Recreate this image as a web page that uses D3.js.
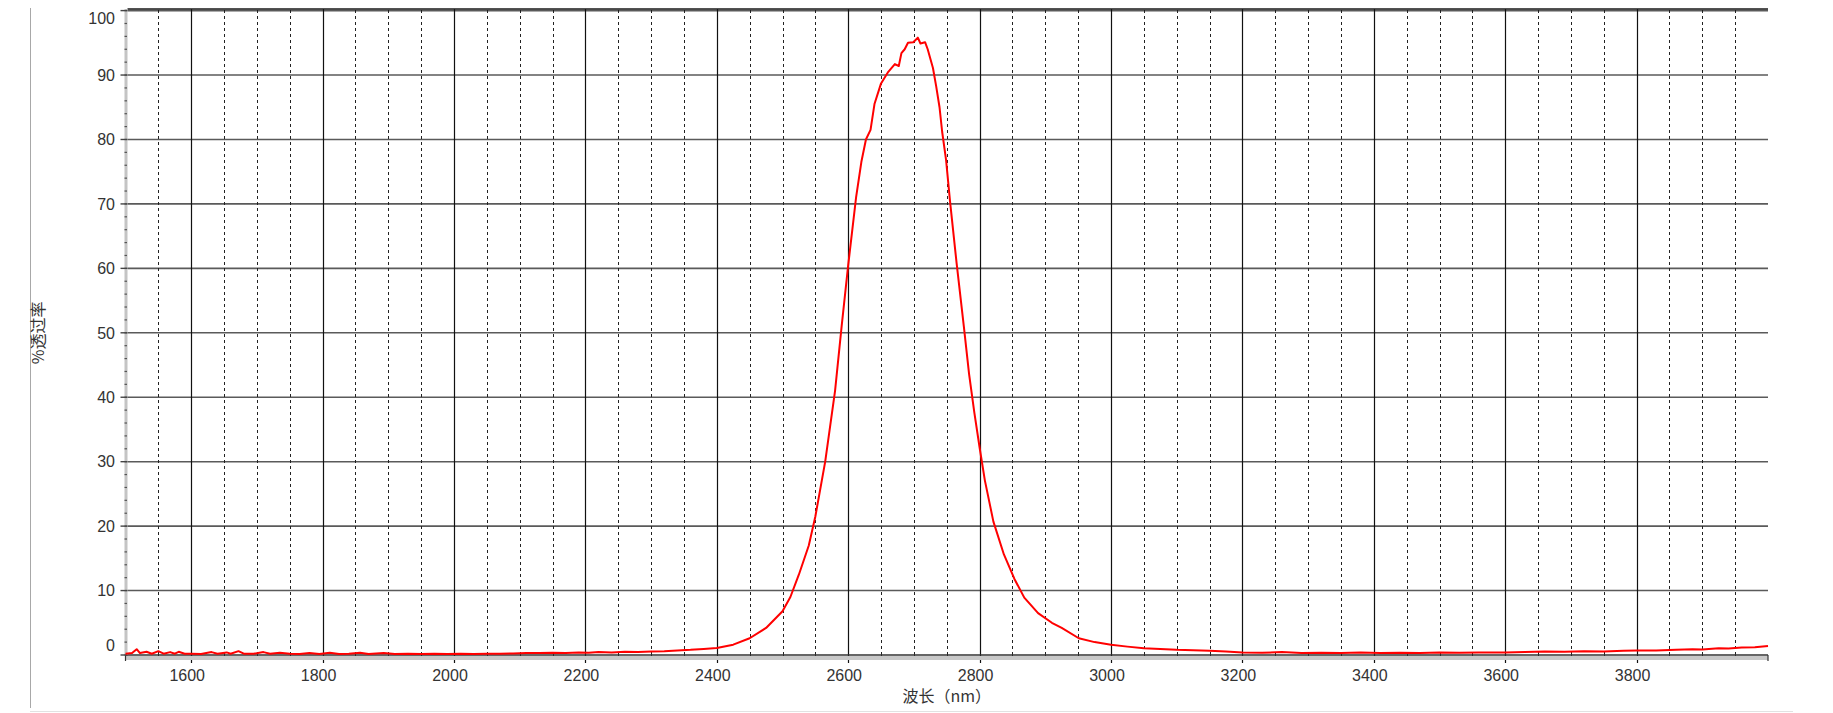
<!DOCTYPE html>
<html>
<head>
<meta charset="utf-8">
<script src="https://cdn.jsdelivr.net/npm/d3@7"></script>
<style>
  html, body { margin: 0; padding: 0; background: #fff; }
  svg { display: block; }
  .tick-label { font-family: "Liberation Sans", Arial, sans-serif; font-size: 16px; fill: #333; }
  .title { font-family: "Noto Sans CJK SC", sans-serif; font-size: 16px; fill: #333; }
</style>
</head>
<body>
<svg id="chart" width="1833" height="713"></svg>
<script>
// ---- data ----
const wavelength = [
  1500,1510,1517,1522,1532,1540,1550,1558,1568,1575,1581,1590,1600,1615,1631,1640,1654,1660,1672,1680,
  1695,1710,1720,1735,1750,1765,1780,1795,1811,1825,1840,1857,1870,1893,1910,1930,1950,1970,1990,2010,
  2030,2050,2070,2090,2110,2130,2150,2170,2190,2205,2220,2240,2260,2280,2300,2320,2340,2360,2380,2400,
  2425,2450,2475,2500,2512,2525,2540,2550,2565,2580,2590,2600,2612,2620,2627,2634,2640,2650,2661,2671,
  2677,2681,2686,2691,2699,2706,2710,2717,2721,2729,2734,2739,2743,2749,2755,2765,2776,2784,2792,2800,
  2808,2821,2837,2853,2868,2889,2910,2925,2951,2975,3000,3025,3050,3075,3100,3125,3150,3175,3200,3230,
  3260,3290,3320,3350,3380,3410,3440,3470,3500,3530,3560,3600,3630,3660,3690,3720,3750,3780,3800,3830,
  3860,3885,3900,3925,3940,3960,3980,4000
];
const transmittance = [
  0.2,0.3,0.9,0.3,0.5,0.2,0.6,0.2,0.45,0.2,0.5,0.2,0.2,0.15,0.45,0.2,0.4,0.2,0.6,0.2,
  0.2,0.45,0.2,0.35,0.2,0.15,0.3,0.15,0.35,0.15,0.2,0.35,0.15,0.3,0.15,0.2,0.15,0.2,0.15,0.2,
  0.15,0.2,0.2,0.25,0.3,0.3,0.35,0.3,0.4,0.35,0.45,0.4,0.5,0.45,0.55,0.6,0.7,0.8,0.95,1.1,
  1.6,2.6,4.2,6.8,9.0,12.5,17,21.5,30,41,51,60.5,71,76.5,80,81.5,85.5,88.7,90.5,91.7,
  91.4,93.4,94,95.0,95.1,95.8,94.9,95.1,94,91.1,88.2,85,81.2,76.8,70.4,60.8,51,43.6,37.6,32.2,
  27.1,20.7,15.6,11.8,8.9,6.5,5.0,4.2,2.6,2.0,1.6,1.3,1.05,0.95,0.8,0.75,0.65,0.55,0.4,0.35,
  0.45,0.3,0.35,0.3,0.4,0.3,0.35,0.3,0.4,0.35,0.4,0.4,0.45,0.55,0.5,0.6,0.55,0.65,0.7,0.7,
  0.8,0.9,0.85,1.05,1.0,1.15,1.2,1.4
];
const xTickValues = [1600,1800,2000,2200,2400,2600,2800,3000,3200,3400,3600,3800];
const xMinorValues = d3.range(1550, 4000, 50).filter(v => v % 200 !== 0);
const yTickValues = [0,10,20,30,40,50,60,70,80,90,100];
const yMinorValues = d3.range(0, 101, 2);
const xTitle = "波长（nm）";
const yTitle = "%透过率";

// ---- layout ----
const mLeft = 125.5, mRight = 1768, mTop = 10.6, mBottom = 655;
const x = d3.scaleLinear().domain([1500, 4000]).range([mLeft, mRight]);
const y = d3.scaleLinear().domain([0, 100]).range([mBottom, mTop]);

const svg = d3.select("#chart");

// outer frame lines
svg.append("line").attr("x1", 30.5).attr("x2", 30.5).attr("y1", 8).attr("y2", 708)
  .attr("stroke", "#a8a8a8").attr("stroke-width", 1);
svg.append("line").attr("x1", 30).attr("x2", 1793).attr("y1", 711.5).attr("y2", 711.5)
  .attr("stroke", "#e2e2e2").attr("stroke-width", 1);

const g = svg.append("g");

// horizontal grid
g.selectAll(".hgrid").data(yTickValues.filter(v => v > 0)).enter().append("line")
  .attr("x1", mLeft + 2).attr("x2", mRight)
  .attr("y1", d => y(d)).attr("y2", d => y(d))
  .attr("stroke", "#5a5a5a").attr("stroke-width", 1.6);

// minor vertical dashed grid
g.selectAll(".vminor").data(xMinorValues).enter().append("line")
  .attr("x1", d => Math.round(x(d)) + 0.5).attr("x2", d => Math.round(x(d)) + 0.5)
  .attr("y1", 10).attr("y2", mBottom)
  .attr("stroke", "#222").attr("stroke-width", 1)
  .attr("stroke-dasharray", "3,3");

// major vertical grid
g.selectAll(".vmajor").data(xTickValues).enter().append("line")
  .attr("x1", d => Math.round(x(d)) + 0.5).attr("x2", d => Math.round(x(d)) + 0.5)
  .attr("y1", 9).attr("y2", mBottom + 8)
  .attr("stroke", "#111").attr("stroke-width", 1.2);

// minor x ticks
g.selectAll(".xminortick").data(xMinorValues).enter().append("line")
  .attr("x1", d => Math.round(x(d)) + 0.5).attr("x2", d => Math.round(x(d)) + 0.5)
  .attr("y1", mBottom).attr("y2", mBottom + 5)
  .attr("stroke", "#222").attr("stroke-width", 1);

// top border
g.append("line").attr("x1", mLeft + 2).attr("x2", mRight).attr("y1", 9).attr("y2", 9)
  .attr("stroke", "#1a1a1a").attr("stroke-width", 1.5);

// bottom axis (line with grey band)
g.append("rect").attr("x", mLeft).attr("y", mBottom + 1).attr("width", mRight - mLeft).attr("height", 4)
  .attr("fill", "#c8c8c8");
g.append("line").attr("x1", mLeft).attr("x2", mRight).attr("y1", mBottom).attr("y2", mBottom)
  .attr("stroke", "#333").attr("stroke-width", 1.5);
g.append("line").attr("x1", mRight).attr("x2", mRight).attr("y1", mBottom).attr("y2", mBottom + 6)
  .attr("stroke", "#333").attr("stroke-width", 1.2);
g.append("line").attr("x1", mLeft).attr("x2", mLeft).attr("y1", mBottom).attr("y2", mBottom + 6)
  .attr("stroke", "#333").attr("stroke-width", 1.2);

// left axis
g.append("line").attr("x1", mLeft + 0.5).attr("x2", mLeft + 0.5).attr("y1", 9).attr("y2", mBottom)
  .attr("stroke", "#c4c4c4").attr("stroke-width", 3);
g.selectAll(".yminor").data(yMinorValues).enter().append("line")
  .attr("x1", mLeft - 1).attr("x2", mLeft + 1.5)
  .attr("y1", d => y(d)).attr("y2", d => y(d))
  .attr("stroke", "#555").attr("stroke-width", 1.2);
g.selectAll(".ymajor").data(yTickValues).enter().append("line")
  .attr("x1", mLeft - 5).attr("x2", mLeft + 2)
  .attr("y1", d => y(d)).attr("y2", d => y(d))
  .attr("stroke", "#444").attr("stroke-width", 1.4);

// y tick labels
g.selectAll(".ylabel").data(yTickValues).enter().append("text")
  .attr("class", "tick-label")
  .attr("x", 115)
  .attr("y", d => y(d) + (d === 100 ? 9 : d === 0 ? -8 : 1.5))
  .attr("text-anchor", "end")
  .attr("dominant-baseline", "middle")
  .text(d => d);

// x tick labels
g.selectAll(".xlabel").data(xTickValues).enter().append("text")
  .attr("class", "tick-label")
  .attr("x", d => x(d) - 4)
  .attr("y", 677)
  .attr("text-anchor", "middle")
  .attr("dominant-baseline", "middle")
  .text(d => d);

// curve
const pts = wavelength.map((w, i) => [w, transmittance[i]]);
const line = d3.line().x(d => x(d[0])).y(d => y(d[1]));
g.append("path").datum(pts)
  .attr("d", line)
  .attr("fill", "none")
  .attr("stroke", "#ff0000")
  .attr("stroke-width", 2)
  .attr("stroke-linejoin", "round");

// titles
svg.append("text").attr("class", "title")
  .attr("x", (mLeft + mRight) / 2).attr("y", 698)
  .attr("text-anchor", "middle").attr("dominant-baseline", "middle")
  .text(xTitle);
svg.append("text").attr("class", "title")
  .attr("transform", "translate(40," + ((mTop + mBottom) / 2) + ") rotate(-90)")
  .attr("text-anchor", "middle").attr("dominant-baseline", "middle")
  .text(yTitle);
</script>
</body>
</html>
